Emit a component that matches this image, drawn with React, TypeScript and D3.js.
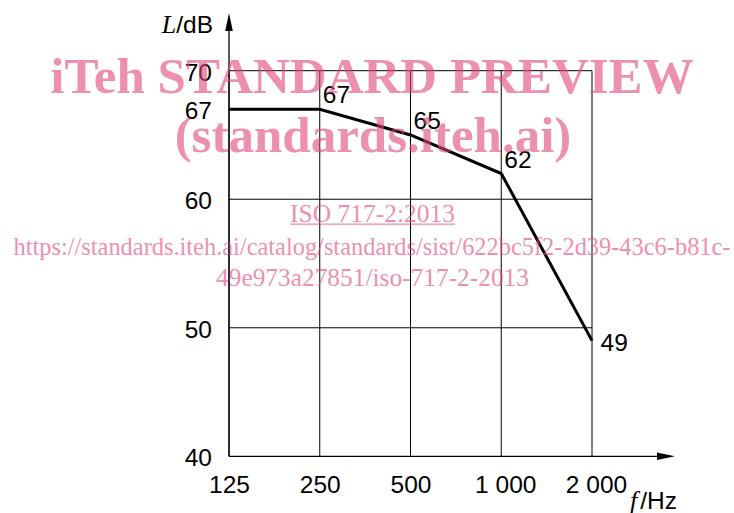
import React from "react";
import * as d3 from "d3";

const frequencies = [125, 250, 500, 1000, 2000];
const freqLabels = ["125", "250", "500", "1 000", "2 000"];
const levels = [67, 67, 65, 62, 49];
const pointLabels = ["67", "67", "65", "62", "49"];
const yTicks = [40, 50, 60, 70];
const watermarkLines = [
  "iTeh STANDARD PREVIEW",
  "(standards.iteh.ai)",
];
const watermarkSmall = [
  "ISO 717-2:2013",
  "https://standards.iteh.ai/catalog/standards/sist/622bc5f2-2d39-43c6-b81c-",
  "49e973a27851/iso-717-2-2013",
];

const SANS = "'Liberation Sans', Arial, sans-serif";
const SERIF = "'Liberation Serif', 'Times New Roman', serif";

export default function App() {
  const W = 734;
  const H = 513;
  const x = d3.scaleLog().base(2).domain([125, 2000]).range([229, 592]);
  const y = d3.scaleLinear().domain([40, 70]).range([456.3, 70.7]);
  const [x0, x1] = x.range();
  const [yb, yt] = y.range();

  const line = d3
    .line<number>()
    .x((_, i) => x(frequencies[i]))
    .y((d) => y(d));

  const fs = 24.5;
  const pink = "#e2457a";

  const pOff = (i: number) =>
    i === 0 ? null : i === frequencies.length - 1 ? [8.5, 10] : [3, -6];

  return (
    <svg
      width={W}
      height={H}
      style={{ position: "absolute", left: 0, top: 0, background: "#fff" }}
    >
      <rect width={W} height={H} fill="#fff" />
      {frequencies.map((f) => (
        <line
          key={"v" + f}
          x1={x(f)}
          x2={x(f)}
          y1={yt}
          y2={yb}
          stroke="#000"
          strokeWidth={1}
        />
      ))}
      {yTicks.slice(1).map((t) => (
        <line
          key={"h" + t}
          x1={x0}
          x2={x1}
          y1={y(t)}
          y2={y(t)}
          stroke="#000"
          strokeWidth={1}
        />
      ))}
      <line x1={x0} x2={x0} y1={yb} y2={26} stroke="#000" strokeWidth={1.3} />
      <path d={`M${x0},13 L${x0 - 3.8},31 L${x0 + 3.8},31 Z`} fill="#000" />
      <line x1={x0} x2={662} y1={yb} y2={yb} stroke="#000" strokeWidth={1.3} />
      <path d={`M675,${yb} L657,${yb - 3.8} L657,${yb + 3.8} Z`} fill="#000" />

      <path
        d={line(levels) || ""}
        fill="none"
        stroke="#000"
        strokeWidth={3}
        strokeLinejoin="miter"
      />

      {yTicks.map((t) => (
        <text
          key={"yt" + t}
          x={212}
          y={y(t) + 10}
          textAnchor="end"
          fontFamily={SANS}
          fontSize={fs}
          fill="#000"
        >
          {t}
        </text>
      ))}
      <text
        x={212}
        y={y(levels[0]) + 10}
        textAnchor="end"
        fontFamily={SANS}
        fontSize={fs}
        fill="#000"
      >
        {pointLabels[0]}
      </text>

      {frequencies.map((f, i) => (
        <text
          key={"xt" + f}
          x={x(f) + (freqLabels[i].length > 3 ? 4.5 : 0.5)}
          y={493}
          textAnchor="middle"
          fontFamily={SANS}
          fontSize={fs}
          fill="#000"
        >
          {freqLabels[i]}
        </text>
      ))}

      {frequencies.map((f, i) => {
        const o = pOff(i);
        if (!o) return null;
        return (
          <text
            key={"pl" + f}
            x={x(f) + o[0]}
            y={y(levels[i]) + o[1]}
            fontFamily={SANS}
            fontSize={fs}
            fill="#000"
          >
            {pointLabels[i]}
          </text>
        );
      })}

      <text x={213} y={33} textAnchor="end" fontSize={fs} fill="#000">
        <tspan fontFamily={SERIF} fontStyle="italic" fontSize={26}>
          L
        </tspan>
        <tspan fontFamily={SANS}>/dB</tspan>
      </text>
      <text x={630} y={509} fontSize={fs} fill="#000">
        <tspan fontFamily={SERIF} fontStyle="italic" fontSize={26}>
          f
        </tspan>
        <tspan fontFamily={SANS} dx={3}>/Hz</tspan>
      </text>

      <g fill={pink} opacity={0.6}>
        <text
          x={372}
          y={92.5}
          textAnchor="middle"
          fontFamily={SERIF}
          fontWeight="bold"
          fontSize={51}
        >
          {watermarkLines[0]}
        </text>
        <text
          x={373}
          y={152}
          textAnchor="middle"
          fontFamily={SERIF}
          fontWeight="bold"
          fontSize={51}
        >
          {watermarkLines[1]}
        </text>
        <text
          x={372.5}
          y={221.7}
          textAnchor="middle"
          fontFamily={SERIF}
          fontSize={25.5}
        >
          {watermarkSmall[0]}
        </text>
        <rect x={290} y={223.5} width={165} height={1.3} />
        <text
          x={13.5}
          y={255}
          fontFamily={SERIF}
          fontSize={24.5}
          textLength={717}
          lengthAdjust="spacingAndGlyphs"
        >
          {watermarkSmall[1]}
        </text>
        <text
          x={216}
          y={285.7}
          fontFamily={SERIF}
          fontSize={25.5}
          textLength={313}
          lengthAdjust="spacingAndGlyphs"
        >
          {watermarkSmall[2]}
        </text>
      </g>
    </svg>
  );
}
